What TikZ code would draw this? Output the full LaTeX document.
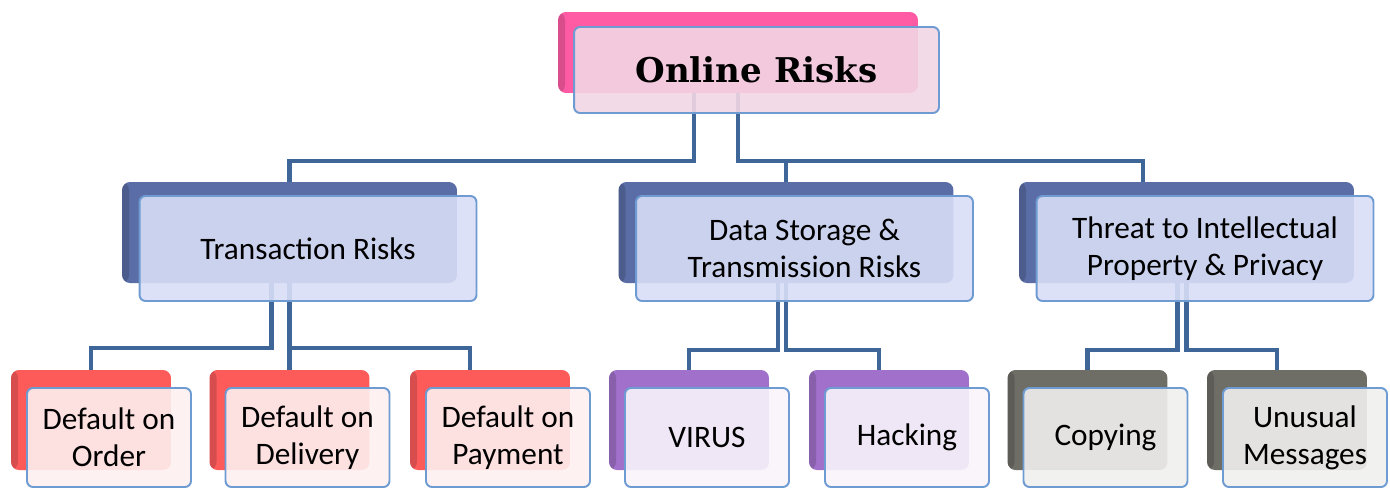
\documentclass[tikz,border=0pt]{standalone}
\usepackage{fontspec}
\setmainfont{Carlito}
\newfontfamily\titlefont{DejaVu Serif}
\usepackage{tikz}
\usetikzlibrary{positioning}

\definecolor{linkblue}{HTML}{3F6698}
\definecolor{frameblue}{HTML}{6E9BD2}
\definecolor{rosebk}{HTML}{FF5BA5}
\definecolor{rosefr}{HTML}{F1D6E4}
\definecolor{slatebk}{HTML}{5A6DA6}
\definecolor{slatefr}{HTML}{D8DEF6}
\definecolor{redbk}{HTML}{FD5A5A}
\definecolor{redfr}{HTML}{FDF0F0}
\definecolor{purplebk}{HTML}{A070CA}
\definecolor{purplefr}{HTML}{F8F4FB}
\definecolor{graybk}{HTML}{6E6D66}
\definecolor{grayfr}{HTML}{F0EFEE}

\begin{document}
\begin{tikzpicture}[
    x=0.02cm, y=-0.02cm,
    backbox/.style={rounded corners=0.16cm, inner sep=0pt,
                    path picture={\fill[black, opacity=.15]
                      (path picture bounding box.north west) rectangle
                      ([xshift=0.14cm]path picture bounding box.south west);}},
    frontbox/.style={draw=frameblue, line width=1.1pt, rounded corners=0.12cm,
                     fill opacity=.9, text opacity=1, align=center,
                     inner sep=2pt, font=\fontsize{17.8}{21}\selectfont},
    topsize/.style={minimum width=7.2cm, minimum height=1.62cm},
    topfront/.style={minimum width=7.3cm, minimum height=1.72cm},
    midsize/.style={minimum width=6.7cm, minimum height=2.02cm},
    midfront/.style={minimum width=6.74cm, minimum height=2.1cm},
    lowsize/.style={minimum width=3.2cm, minimum height=2cm},
    lowfront/.style={minimum width=3.28cm, minimum height=1.98cm},
    link/.style={draw=linkblue, line width=2.3pt},
  ]
  \useasboundingbox (0,0) rectangle (1390,488);

  % Row 0: back plates
  \node[backbox, fill=rosebk, topsize] at (738, 52.5) (top-bk) {};

  % Row 1: back plates
  \node[backbox, fill=slatebk, midsize] at (289.5, 232.5) (trans-bk) {};
  \node[backbox, fill=slatebk, midsize] at (786, 232.5) (data-bk) {};
  \node[backbox, fill=slatebk, midsize] at (1186.5, 232.5) (threat-bk) {};

  % Row 2: back plates
  \node[backbox, fill=redbk, lowsize] at (91, 420) (order-bk) {};
  \node[backbox, fill=redbk, lowsize] at (289.5, 420) (deliv-bk) {};
  \node[backbox, fill=redbk, lowsize] at (490, 420) (pay-bk) {};
  \node[backbox, fill=purplebk, lowsize] at (689, 420) (virus-bk) {};
  \node[backbox, fill=purplebk, lowsize] at (889, 420) (hack-bk) {};
  \node[backbox, fill=graybk, lowsize] at (1087.5, 420) (copy-bk) {};
  \node[backbox, fill=graybk, lowsize] at (1287, 420) (unus-bk) {};

  % Links
  \draw[link] ([xshift=-0.88cm]top-bk.south) -- ++(0,68) -| (trans-bk.north);
  \draw[link] (top-bk.south) -- ++(0,68) coordinate (hub) -|
    ([xshift=-0.87cm]threat-bk.north);
  \draw[link] (hub -| data-bk.north) -- (data-bk.north);

  \draw[link] ([xshift=-0.36cm]trans-bk.south) -- ++(0,65) -| (order-bk.north);
  \draw[link] (trans-bk.south) -- (deliv-bk.north);
  \draw[link] (trans-bk.south) -- ++(0,65) -| ([xshift=-0.4cm]pay-bk.north);

  \draw[link] ([xshift=-0.16cm]data-bk.south) -- ++(0,67) -| (virus-bk.north);
  \draw[link] (data-bk.south) -- ++(0,67) -| ([xshift=-0.2cm]hack-bk.north);

  \draw[link] ([xshift=-0.18cm]threat-bk.south) -- ++(0,67) -| (copy-bk.north);
  \draw[link] (threat-bk.south) -- ++(0,67) -| ([xshift=-0.2cm]unus-bk.north);

  % Front cards
  \node[frontbox, fill=rosefr, topfront, font=\titlefont\bfseries\fontsize{19.4}{23}\selectfont]
    at ([shift={(18.5,17.5)}]top-bk) (top) {Online Risks};

  \node[frontbox, fill=slatefr, midfront] at ([shift={(18.5,16)}]trans-bk) (trans)
    {Transaction Risks};
  \node[frontbox, fill=slatefr, midfront] at ([shift={(18.5,16)}]data-bk) (data)
    {Data Storage \&\\Transmission Risks};
  \node[frontbox, fill=slatefr, midfront] at ([shift={(18.5,16)}]threat-bk) (threat)
    {Threat to Intellectual\\Property \& Privacy};

  \node[frontbox, fill=redfr, lowfront] at ([shift={(18,17.5)}]order-bk) (order)
    {Default on\\Order};
  \node[frontbox, fill=redfr, lowfront] at ([shift={(18,17.5)}]deliv-bk) (deliv)
    {Default on\\Delivery};
  \node[frontbox, fill=redfr, lowfront] at ([shift={(18,17.5)}]pay-bk) (pay)
    {Default on\\Payment};
  \node[frontbox, fill=purplefr, lowfront] at ([shift={(18,17.5)}]virus-bk) (virus)
    {VIRUS};
  \node[frontbox, fill=purplefr, lowfront] at ([shift={(18,17.5)}]hack-bk) (hack)
    {Hacking};
  \node[frontbox, fill=grayfr, lowfront] at ([shift={(18,17.5)}]copy-bk) (copy)
    {Copying};
  \node[frontbox, fill=grayfr, lowfront] at ([shift={(18,17.5)}]unus-bk) (unus)
    {Unusual\\Messages};

\end{tikzpicture}
\end{document}
